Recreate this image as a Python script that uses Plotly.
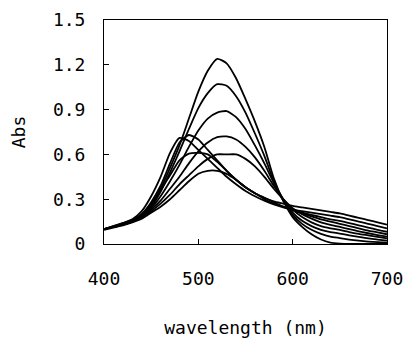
import plotly.graph_objects as go

wavelength = list(range(400, 701, 10))

abs_a = [0.10, 0.115, 0.13, 0.15, 0.19, 0.26, 0.37, 0.51, 0.66, 0.84, 1.02, 1.16, 1.24, 1.21, 1.11, 0.97, 0.82, 0.65, 0.44, 0.29,
         0.18, 0.115, 0.065, 0.03, 0.01, 0.003, 0.0, 0.0, 0.0, 0.0, 0.0]
abs_b = [0.10, 0.115, 0.13, 0.15, 0.19, 0.25, 0.35, 0.48, 0.62, 0.77, 0.91, 1.01, 1.07, 1.06, 0.99, 0.88, 0.74, 0.59, 0.42, 0.29,
         0.195, 0.135, 0.095, 0.068, 0.05, 0.04, 0.03, 0.022, 0.016, 0.012, 0.009]
abs_c = [0.10, 0.115, 0.13, 0.15, 0.185, 0.24, 0.32, 0.42, 0.53, 0.65, 0.76, 0.84, 0.88, 0.89, 0.85, 0.77, 0.66, 0.54, 0.41, 0.30,
         0.21, 0.155, 0.12, 0.095, 0.08, 0.07, 0.058, 0.047, 0.037, 0.03, 0.022]
abs_d = [0.10, 0.115, 0.13, 0.15, 0.18, 0.23, 0.29, 0.37, 0.45, 0.54, 0.62, 0.68, 0.715, 0.72, 0.70, 0.65, 0.58, 0.49, 0.39, 0.30,
         0.23, 0.18, 0.145, 0.12, 0.105, 0.094, 0.08, 0.068, 0.058, 0.048, 0.038]
abs_e = [0.10, 0.115, 0.13, 0.15, 0.18, 0.22, 0.27, 0.33, 0.40, 0.46, 0.52, 0.57, 0.60, 0.60, 0.60, 0.57, 0.52, 0.45, 0.37, 0.30,
         0.24, 0.20, 0.17, 0.145, 0.128, 0.114, 0.10, 0.085, 0.072, 0.06, 0.049]
abs_f = [0.095, 0.11, 0.125, 0.145, 0.17, 0.21, 0.25, 0.30, 0.36, 0.42, 0.47, 0.49, 0.49, 0.47, 0.43, 0.38, 0.34, 0.31, 0.28, 0.25,
         0.225, 0.205, 0.185, 0.165, 0.15, 0.135, 0.12, 0.105, 0.09, 0.078, 0.065]
abs_g = [0.10, 0.115, 0.135, 0.155, 0.20, 0.27, 0.36, 0.46, 0.56, 0.605, 0.61, 0.60, 0.55, 0.49, 0.43, 0.38, 0.34, 0.30, 0.27, 0.25,
         0.23, 0.21, 0.195, 0.18, 0.165, 0.155, 0.14, 0.125, 0.11, 0.095, 0.082]
abs_h = [0.10, 0.12, 0.14, 0.165, 0.22, 0.32, 0.45, 0.61, 0.71, 0.69, 0.63, 0.57, 0.51, 0.45, 0.40, 0.355, 0.32, 0.29, 0.265, 0.245,
         0.23, 0.22, 0.21, 0.20, 0.19, 0.18, 0.165, 0.15, 0.135, 0.12, 0.105]
abs_i = [0.10, 0.12, 0.14, 0.16, 0.20, 0.28, 0.39, 0.54, 0.68, 0.73, 0.70, 0.63, 0.56, 0.49, 0.43, 0.38, 0.34, 0.31, 0.285, 0.27,
         0.255, 0.245, 0.235, 0.225, 0.215, 0.205, 0.19, 0.175, 0.16, 0.145, 0.13]

series = [abs_a, abs_b, abs_c, abs_d, abs_e, abs_f, abs_g, abs_h, abs_i]

x_ticks = [400, 500, 600, 700]
y_ticks = [0, 0.3, 0.6, 0.9, 1.2, 1.5]
y_tick_labels = ["0", "0.3", "0.6", "0.9", "1.2", "1.5"]

FONT = "DejaVu Sans Mono"

fig = go.Figure()
for s in series:
    fig.add_trace(go.Scatter(x=wavelength, y=s, mode="lines", line=dict(color="black", width=1.8, shape="spline", smoothing=0.6),
                             showlegend=False, hoverinfo="skip"))

fig.update_layout(
    width=405, height=338,
    margin=dict(l=104, r=18, t=20, b=94),
    paper_bgcolor="white", plot_bgcolor="white",
    font=dict(family=FONT, size=18, color="black"),
)
fig.update_xaxes(
    range=[400, 700], tickvals=x_ticks, ticks="inside", ticklen=5, tickcolor="black",
    showline=True, linecolor="black", linewidth=1, mirror=True, showgrid=False, zeroline=False,
    ticklabelstandoff=18,
    title=dict(text="wavelength (nm)", standoff=36, font=dict(family=FONT, size=18)),
    automargin=False,
)
fig.update_yaxes(
    range=[0, 1.5], tickvals=y_ticks, ticktext=y_tick_labels, ticks="inside", ticklen=5, tickcolor="black",
    showline=True, linecolor="black", linewidth=1, mirror=True, showgrid=False, zeroline=False,
    ticklabelstandoff=14,
    title=dict(text="Abs", standoff=22, font=dict(family=FONT, size=18)),
    automargin=False,
)

fig.write_html("out.html", config={"displayModeBar": False},
               post_script="document.body.style.margin='0';")
